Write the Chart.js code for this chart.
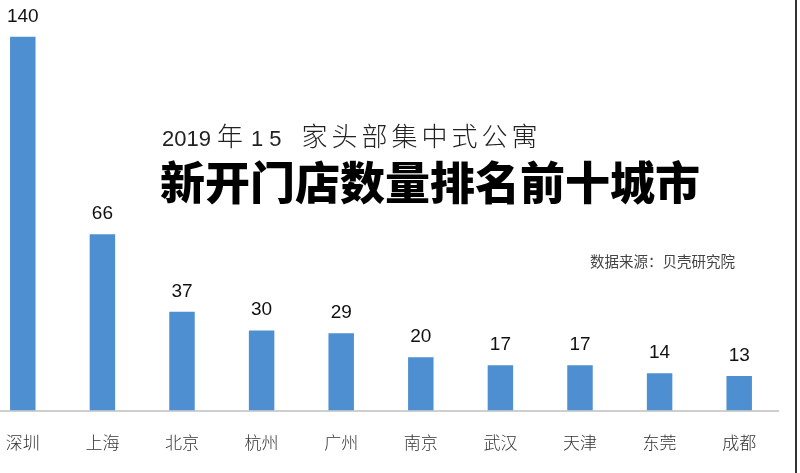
<!DOCTYPE html>
<html>
<head>
<meta charset="utf-8">
<script src="https://cdn.jsdelivr.net/npm/chart.js@4"></script>
<style>
  html, body { margin: 0; padding: 0; background: #fff; }
  body { width: 800px; height: 473px; position: relative; overflow: hidden; }
  #wrap { position: absolute; left: -17px; top: 0; width: 796px; height: 473px; }
  .txt { position: absolute; white-space: nowrap; font-family: "Noto Sans CJK SC", sans-serif; }
  #t1 { left: 162px; top: 120px; font-size: 22px; font-family: "Liberation Sans", Arial, sans-serif; color: #222; line-height: 30px; }
  #t1 .c { font-family: "Noto Sans CJK SC", sans-serif; font-size: 26px; font-weight: 300; letter-spacing: 4px; }
  #t1 .n { letter-spacing: 6px; margin-left: 4px; margin-right: 14px; }
  #t2 { left: 160px; top: 154px; font-size: 45px; font-weight: 900; color: #000; line-height: 1.2; }
  #src { left: 590px; top: 250px; font-size: 14.5px; color: #444; }
  #edge { position: absolute; left: 795px; top: 0; width: 2px; height: 473px; background: #333; }
</style>
</head>
<body>
<div id="wrap"><canvas id="chart"></canvas></div>
<div class="txt" id="t1">2019 <span class="c">年</span><span class="n">15</span><span class="c">家头部集中式公寓</span></div>
<div class="txt" id="t2">新开门店数量排名前十城市</div>
<div class="txt" id="src">数据来源：贝壳研究院</div>
<div id="edge"></div>
<script>
// 城市 / 新开门店数量
const cities = ['深圳', '上海', '北京', '杭州', '广州', '南京', '武汉', '天津', '东莞', '成都'];
const storeCounts = [140, 66, 37, 30, 29, 20, 17, 17, 14, 13];

// draw value labels above bars
const valueLabels = {
  id: 'valueLabels',
  afterDatasetsDraw(chart) {
    const ctx = chart.ctx;
    const meta = chart.getDatasetMeta(0);
    ctx.save();
    ctx.font = '19px "Liberation Sans", Arial, sans-serif';
    ctx.fillStyle = '#111';
    ctx.textAlign = 'center';
    ctx.textBaseline = 'alphabetic';
    meta.data.forEach((bar, i) => {
      ctx.fillText(String(storeCounts[i]), bar.x, bar.y - 15);
    });
    ctx.restore();
  }
};

new Chart(document.getElementById('chart'), {
  type: 'bar',
  data: {
    labels: cities,
    datasets: [{
      data: storeCounts,
      backgroundColor: '#4d8fd1',
      barPercentage: 0.32,
      categoryPercentage: 1
    }]
  },
  options: {
    responsive: true,
    maintainAspectRatio: false,
    animation: false,
    layout: { padding: { top: 10, bottom: 6, left: 0, right: 0 } },
    plugins: { legend: { display: false }, tooltip: { enabled: false } },
    scales: {
      x: {
        grid: { display: false },
        border: { color: '#cfcfcf', width: 2 },
        ticks: {
          color: '#333',
          padding: 14,
          font: { family: '"Noto Sans CJK SC", sans-serif', size: 17, weight: 300 }
        }
      },
      y: {
        display: false,
        min: 0,
        max: 150
      }
    }
  },
  plugins: [valueLabels]
});
</script>
</body>
</html>
